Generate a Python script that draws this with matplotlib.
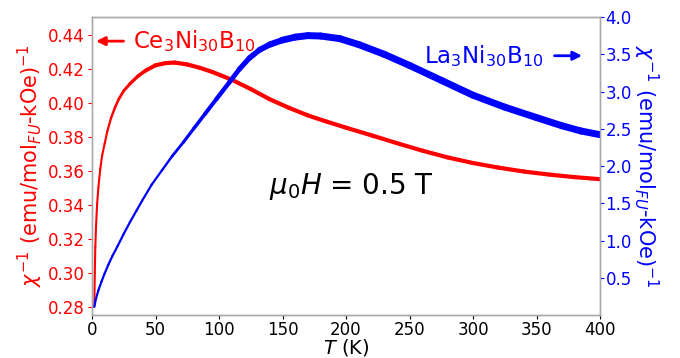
import matplotlib
matplotlib.use("Agg")
import matplotlib.pyplot as plt
from matplotlib.collections import LineCollection
import numpy as np

# Ce3Ni30B10 inverse susceptibility (left axis)
t_ce = [1.8, 2.2, 2.6, 3.2, 4.0, 5.0, 6.5, 8.0, 10, 12, 15, 18, 21, 25, 30,
        36, 42, 50, 58, 65, 75, 85, 95, 110, 125, 140, 155, 170, 185, 200,
        220, 240, 260, 280, 300, 320, 340, 360, 380, 400]
chi_ce = [0.280, 0.300, 0.315, 0.328, 0.340, 0.350, 0.361, 0.369, 0.376, 0.383,
          0.391, 0.397, 0.402, 0.407, 0.4112, 0.4155, 0.4188, 0.4220, 0.4233, 0.4236,
          0.4225, 0.4205, 0.418, 0.4135, 0.408, 0.402, 0.397, 0.3925, 0.3888, 0.3853,
          0.3808, 0.3762, 0.3718, 0.3678, 0.3645, 0.3618, 0.3595, 0.3577, 0.3562, 0.355]

# La3Ni30B10 inverse susceptibility (right axis)
t_la = [1.8, 3, 5, 7.5, 10, 13, 16, 20, 25, 30, 35, 40, 47, 55, 63, 72, 80, 89,
        98, 108, 116, 124, 132, 140, 150, 160, 170, 180, 195, 210, 230, 250, 275,
        300, 325, 350, 370, 385, 400]
chi_la = [0.11, 0.21, 0.33, 0.45, 0.56, 0.68, 0.79, 0.92, 1.09, 1.25, 1.40, 1.55,
          1.75, 1.94, 2.13, 2.32, 2.50, 2.70, 2.90, 3.12, 3.30, 3.45, 3.56, 3.63,
          3.69, 3.73, 3.75, 3.745, 3.71, 3.63, 3.50, 3.35, 3.15, 2.95, 2.79, 2.65,
          2.54, 2.47, 2.42]

left_ticks = [0.28, 0.30, 0.32, 0.34, 0.36, 0.38, 0.40, 0.42, 0.44]
right_ticks = [0.5, 1.0, 1.5, 2.0, 2.5, 3.0, 3.5, 4.0]
x_ticks = [0, 50, 100, 150, 200, 250, 300, 350, 400]

spine_gray = '#aaaaaa'


def noisy_line(axis, t, y, color, t_thin, t_thick, w_thin, w_thick):
    # the measured data gets noisier at high T, so the trace looks thicker there
    t = np.asarray(t, float)
    y = np.asarray(y, float)
    pts = np.column_stack([t, y]).reshape(-1, 1, 2)
    segs = np.concatenate([pts[:-1], pts[1:]], axis=1)
    mid = 0.5 * (t[:-1] + t[1:])
    widths = np.interp(mid, [t_thin, t_thick], [w_thin, w_thick])
    lc = LineCollection(segs, colors=color, linewidths=widths,
                        capstyle='round', joinstyle='round')
    axis.add_collection(lc)


fig = plt.figure(figsize=(6.8, 3.58), dpi=100)
ax = fig.add_axes([0.1353, 0.1201, 0.7471, 0.8324])
ax2 = ax.twinx()

noisy_line(ax, t_ce, chi_ce, 'red', 10, 50, 1.5, 3.0)
noisy_line(ax2, t_la, chi_la, 'blue', 55, 160, 1.6, 5.0)

ax.set_xlim(0, 400)
ax.set_ylim(0.2751, 0.4504)
ax2.set_ylim(0.0, 4.0)
ax.set_xticks(x_ticks)
ax.set_yticks(left_ticks)
ax.set_yticklabels([f'{v:.2f}' for v in left_ticks])
ax2.set_yticks(right_ticks)
ax2.set_yticklabels([f'{v:.1f}' for v in right_ticks])

for a in (ax, ax2):
    for s in a.spines.values():
        s.set_color(spine_gray)
        s.set_linewidth(1.0)

ax.tick_params(axis='x', labelsize=12, length=3, pad=1, color='black')
ax.tick_params(axis='y', labelsize=12, length=3, pad=2, colors='red')
ax2.tick_params(axis='y', labelsize=12, length=3, pad=1, colors='blue')

ax.set_xlabel('$T$ (K)', fontsize=14, labelpad=-1)
ax.set_ylabel(r'$\chi^{-1}$ (emu/mol$_{FU}$-kOe)$^{-1}$', fontsize=15,
              color='red', labelpad=2)
ax2.set_ylabel(r'$\chi^{-1}$ (emu/mol$_{FU}$-kOe)$^{-1}$', fontsize=15,
               color='blue', rotation=270, labelpad=20)

# labels with arrows pointing at their axes
ax.annotate('', xy=(1, 0.4362), xytext=(27, 0.4362),
            arrowprops=dict(arrowstyle='-|>', color='red', lw=2, mutation_scale=13))
ax.text(32, 0.4362, r'Ce$_3$Ni$_{30}$B$_{10}$', fontsize=16.5, color='red',
        ha='left', va='center')
ax.annotate('', xy=(388, 3.48), xytext=(362, 3.48),
            arrowprops=dict(arrowstyle='-|>', color='blue', lw=2, mutation_scale=13),
            xycoords=ax2.transData, textcoords=ax2.transData)
ax.text(356, 3.48, r'La$_3$Ni$_{30}$B$_{10}$', fontsize=16.5, color='blue',
        ha='right', va='center', transform=ax2.transData)
ax.text(0.51, 0.43, r'$\mu_0H$ = 0.5 T', transform=ax.transAxes,
        fontsize=20, color='black', ha='center', va='center')

fig.savefig('out.png', dpi=100)
